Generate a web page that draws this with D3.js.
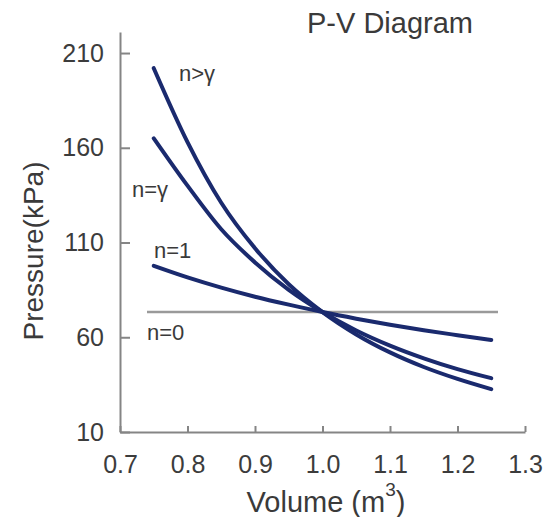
<!DOCTYPE html>
<html>
<head>
<meta charset="utf-8">
<script src="https://cdn.jsdelivr.net/npm/d3@7"></script>
<style>
  body { margin: 0; background: #fff; }
  svg { display: block; font-family: 'Liberation Sans', Arial, sans-serif; }
</style>
</head>
<body>
<div id="chart"></div>
<script>
// Values.
var volume = [0.75, 0.80, 0.85, 0.90, 0.95, 1.00, 1.05, 1.10, 1.15, 1.20, 1.25];
var nGreater = [202, 163, 131, 107, 88, 73.3, 61.5, 52, 44.3, 38, 32.6];
var nGamma = [165, 140, 117, 99.5, 85, 73.3, 63.6, 55.6, 48.9, 43.2, 38.4];
var nOne = [97.7, 91.6, 86.2, 81.4, 77.2, 73.3, 69.8, 66.6, 63.7, 61.1, 58.6];
var nZeroVolume = [0.74, 1.26];
var nZero = [73.3, 73.3];
var xTicks = [0.7, 0.8, 0.9, 1.0, 1.1, 1.2, 1.3];
var yTicks = [10, 60, 110, 160, 210];

var curves = [
  {label: 'n>γ', values: nGreater, lx: 179, ly: 81},
  {label: 'n=γ', values: nGamma, lx: 132, ly: 197},
  {label: 'n=1', values: nOne, lx: 154, ly: 258}
];

var width = 550, height = 517;

var x = d3.scaleLinear().domain([0.7, 1.3]).range([120, 525]);
var y = d3.scaleLinear().domain([10, 221.1]).range([432, 32]);

var svg = d3.select('#chart').append('svg')
    .attr('width', width)
    .attr('height', height);

// Axes, ticks pointing inward.
svg.append('g')
    .attr('transform', 'translate(0,' + y(10) + ')')
    .call(d3.axisBottom(x)
      .tickValues(xTicks)
      .tickFormat(d3.format('.1f'))
      .tickSizeInner(-6)
      .tickSizeOuter(0)
      .tickPadding(23));

svg.append('g')
    .attr('transform', 'translate(' + x(0.7) + ',0)')
    .call(d3.axisLeft(y)
      .tickValues(yTicks)
      .tickSizeInner(-10)
      .tickSizeOuter(0)
      .tickPadding(16));

svg.selectAll('.domain, .tick line')
    .attr('stroke', '#858585')
    .attr('stroke-width', 2);
svg.selectAll('.tick text')
    .attr('fill', '#3c3c3c')
    .style('font-size', '25px');

var line = d3.line()
    .x(function(d) { return x(d[0]); })
    .y(function(d) { return y(d[1]); })
    .curve(d3.curveMonotoneX);

// n=0 isobaric line
svg.append('path')
    .datum(d3.zip(nZeroVolume, nZero))
    .attr('d', line)
    .attr('fill', 'none')
    .attr('stroke', '#9a9a9a')
    .attr('stroke-width', 2.5);

svg.selectAll('.curve')
    .data(curves)
  .enter().append('path')
    .attr('class', 'curve')
    .attr('d', function(c) { return line(d3.zip(volume, c.values)); })
    .attr('fill', 'none')
    .attr('stroke', '#1a2a6e')
    .attr('stroke-width', 4)
    .attr('stroke-linecap', 'round');

var labels = curves.map(function(c) { return {label: c.label, lx: c.lx, ly: c.ly}; })
    .concat([{label: 'n=0', lx: 147, ly: 340}]);

svg.selectAll('.curve-label')
    .data(labels)
  .enter().append('text')
    .attr('class', 'curve-label')
    .attr('x', function(d) { return d.lx; })
    .attr('y', function(d) { return d.ly; })
    .attr('fill', '#3a3a3a')
    .style('font-size', '22px')
    .text(function(d) { return d.label; });

// Title and axis titles
svg.append('text')
    .attr('x', 390)
    .attr('y', 33)
    .attr('text-anchor', 'middle')
    .attr('fill', '#3a3a3a')
    .style('font-size', '29px')
    .text('P-V Diagram');

svg.append('text')
    .attr('transform', 'translate(43,251) rotate(-90)')
    .attr('text-anchor', 'middle')
    .attr('fill', '#3a3a3a')
    .style('font-size', '28px')
    .text('Pressure(kPa)');

var xLabel = svg.append('text')
    .attr('x', 326)
    .attr('y', 512)
    .attr('text-anchor', 'middle')
    .attr('fill', '#3a3a3a')
    .style('font-size', '29px');
xLabel.append('tspan').text('Volume (m');
xLabel.append('tspan')
    .attr('dy', -16)
    .style('font-size', '19px')
    .text('3');
xLabel.append('tspan')
    .attr('dy', 16)
    .text(')');
</script>
</body>
</html>
